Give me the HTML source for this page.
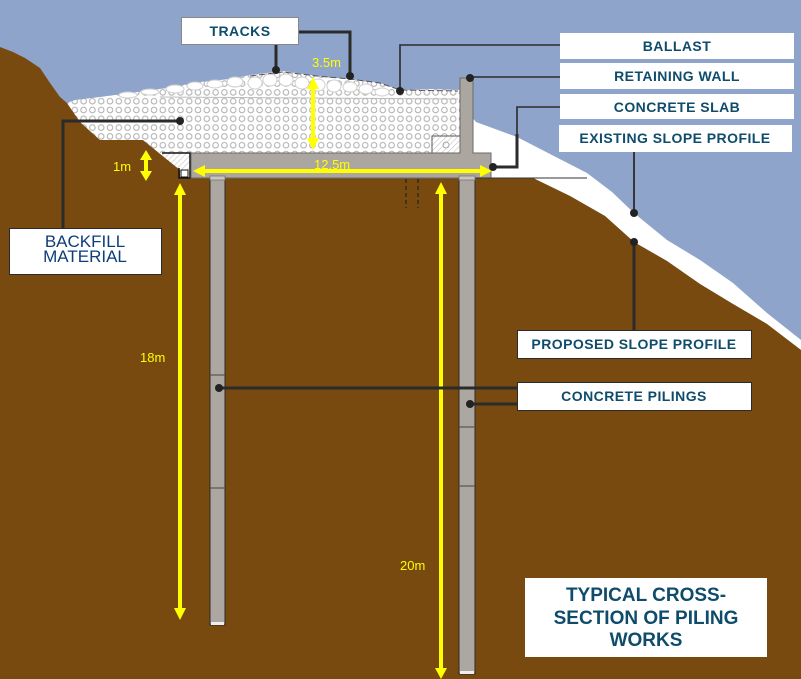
<!DOCTYPE html>
<html>
<head>
<meta charset="utf-8">
<style>
html,body{margin:0;padding:0;background:#8fa4cb;}
svg{display:block;}
</style>
</head>
<body>
<svg width="801" height="679" viewBox="0 0 801 679" xmlns="http://www.w3.org/2000/svg">
<defs>
<pattern id="ball" x="0" y="0" width="8.8" height="8.8" patternUnits="userSpaceOnUse">
<rect width="8.8" height="8.8" fill="#ffffff"/>
<circle cx="4.4" cy="4.4" r="2.8" fill="none" stroke="#adadad" stroke-width="1"/>
</pattern>
<pattern id="hatch" width="4" height="4" patternUnits="userSpaceOnUse" patternTransform="rotate(45)">
<rect width="4" height="4" fill="#ffffff"/>
<line x1="0" y1="0" x2="0" y2="4" stroke="#c4c4c4" stroke-width="1.2"/>
</pattern>
</defs>

<rect x="0" y="0" width="801" height="679" fill="#8fa4cb"/>

<polygon points="471,116 476,122 517,137 550,154 587,173 612,192 634,213 667,240 700,260 733,283 767,313 801,340 801,350 767,324 733,304 700,284 667,261 634,242 605,216 570,196 533,178 471,178" fill="#ffffff"/>

<polygon points="0,47 13,52 25,58 40,68 50,83 60,97 67,103 80,122 100,140 143,140 180,170 180,178 491,178 533,178 570,196 605,216 634,242 667,261 700,284 733,304 767,324 801,350 801,679 0,679" fill="#784a10"/>

<polygon points="67,103 75,100 100,97 130,93 167,88 200,82 230,79 250,75 283,71 317,76 350,79 380,83 400,90 430,89 460,90 460,153 159,153 143,140 100,140 80,122" fill="url(#ball)"/>
<g fill="#ffffff" stroke="#cfcfcf" stroke-width="1">
<ellipse cx="175" cy="89" rx="9" ry="4"/>
<ellipse cx="195" cy="86" rx="8" ry="4"/>
<ellipse cx="215" cy="84" rx="8" ry="4"/>
<ellipse cx="235" cy="82" rx="8" ry="5"/>
<ellipse cx="255" cy="83" rx="7" ry="6"/>
<ellipse cx="270" cy="80" rx="7" ry="6"/>
<ellipse cx="286" cy="80" rx="7" ry="6"/>
<ellipse cx="302" cy="83" rx="7" ry="6"/>
<ellipse cx="318" cy="85" rx="7" ry="6"/>
<ellipse cx="334" cy="86" rx="7" ry="6"/>
<ellipse cx="350" cy="87" rx="7" ry="5"/>
<ellipse cx="366" cy="89" rx="7" ry="5"/>
<ellipse cx="382" cy="92" rx="7" ry="4"/>
<ellipse cx="150" cy="92" rx="9" ry="3"/>
<ellipse cx="128" cy="95" rx="9" ry="3"/>
</g>
<polyline points="250,76 283,72 317,76 350,79 380,83 400,90 458,91" fill="none" stroke="#555" stroke-width="1" stroke-dasharray="6,3"/>
<line x1="160" y1="97" x2="458" y2="99" stroke="#bbb" stroke-width="1"/>

<rect x="432" y="136" width="28" height="17" fill="url(#hatch)" stroke="#555" stroke-width="1"/>
<circle cx="446" cy="145" r="3" fill="none" stroke="#aaa" stroke-width="1"/>

<polygon points="159,153 190,153 190,178 180,178 180,170" fill="url(#hatch)"/>
<polyline points="162,153 190,153 190,178 179,178 179,168" fill="none" stroke="#111" stroke-width="1.5"/>
<rect x="181" y="170" width="7" height="7" fill="#ffffff" stroke="#111" stroke-width="1"/>

<polygon points="460,78 473,78 473,153 491,153 491,178 191,178 191,153 460,153" fill="#aba69f" stroke="#6d6a66" stroke-width="1"/>
<line x1="473" y1="178" x2="587" y2="178" stroke="#333" stroke-width="1"/>

<line x1="406" y1="179" x2="406" y2="208" stroke="#222" stroke-width="1.2" stroke-dasharray="4,3"/>
<line x1="418" y1="179" x2="418" y2="208" stroke="#222" stroke-width="1.2" stroke-dasharray="4,3"/>

<rect x="210" y="178" width="15" height="447" fill="#aca7a0" stroke="#2e2b28" stroke-width="1"/>
<rect x="210" y="176" width="15" height="4" fill="#c8c4be" stroke="#777" stroke-width="0.8"/>
<line x1="210" y1="375" x2="225" y2="375" stroke="#555" stroke-width="1.2"/>
<line x1="210" y1="488" x2="225" y2="488" stroke="#555" stroke-width="1.2"/>
<rect x="211" y="622" width="13" height="3" fill="#eee"/>
<rect x="459" y="178" width="16" height="496" fill="#aca7a0" stroke="#2e2b28" stroke-width="1"/>
<rect x="459" y="176" width="16" height="4" fill="#c8c4be" stroke="#777" stroke-width="0.8"/>
<line x1="459" y1="427" x2="475" y2="427" stroke="#555" stroke-width="1.2"/>
<line x1="459" y1="486" x2="475" y2="486" stroke="#555" stroke-width="1.2"/>
<rect x="460" y="671" width="14" height="3" fill="#eee"/>

<g fill="#ffff00" stroke="none">
<rect x="311" y="87" width="4" height="52"/>
<polygon points="307,89 319,89 313,77"/>
<polygon points="307,138 319,138 313,150"/>
<rect x="144" y="158" width="4" height="15"/>
<polygon points="140,160 152,160 146,150"/>
<polygon points="140,171 152,171 146,181"/>
<rect x="203" y="169" width="278" height="4"/>
<polygon points="205,165 205,177 193,171"/>
<polygon points="480,165 480,177 492,171"/>
<rect x="178" y="193" width="4" height="418"/>
<polygon points="174,195 186,195 180,183"/>
<polygon points="174,608 186,608 180,620"/>
<rect x="439" y="192" width="4" height="478"/>
<polygon points="435,194 447,194 441,182"/>
<polygon points="435,668 447,668 441,679"/>
</g>
<g font-family="Liberation Sans, sans-serif" font-size="13" fill="#ffff00">
<text x="312" y="67">3.5m</text>
<text x="113" y="171">1m</text>
<text x="314" y="169">12.5m</text>
<text x="140" y="362">18m</text>
<text x="400" y="570">20m</text>
</g>

<g stroke="#2b2b2b" fill="none" stroke-linecap="butt">
<polyline points="298,32 350,32 350,76" stroke-width="3"/>
<line x1="276" y1="44" x2="276" y2="70" stroke-width="3"/>
<polyline points="560,45 400,45 400,91" stroke-width="1.6"/>
<line x1="470" y1="77" x2="560" y2="77" stroke-width="1.6"/>
<polyline points="560,107 517,107 517,135" stroke-width="1.6"/>
<polyline points="517,134 517,167 493,167" stroke-width="3"/>
<line x1="634" y1="152" x2="634" y2="213" stroke-width="1.8"/>
<line x1="634" y1="242" x2="634" y2="330" stroke-width="3"/>
<line x1="219" y1="388" x2="517" y2="388" stroke-width="3"/>
<line x1="470" y1="404" x2="517" y2="404" stroke-width="3"/>
<polyline points="63,228 63,121 180,121" stroke-width="3"/>
</g>
<g fill="#222">
<circle cx="276" cy="70" r="4"/>
<circle cx="350" cy="76" r="4"/>
<circle cx="400" cy="91" r="4"/>
<circle cx="470" cy="78" r="4"/>
<circle cx="493" cy="167" r="4"/>
<circle cx="634" cy="213" r="4"/>
<circle cx="634" cy="242" r="4"/>
<circle cx="219" cy="388" r="4"/>
<circle cx="470" cy="404" r="4"/>
<circle cx="180" cy="121" r="4"/>
</g>

<rect x="181.5" y="17.5" width="117" height="27" fill="#fff" stroke="#888" stroke-width="1"/>
<rect x="560" y="33" width="234" height="26" fill="#fff"/>
<rect x="560" y="63" width="234" height="26" fill="#fff"/>
<rect x="560" y="94" width="234" height="25" fill="#fff"/>
<rect x="559" y="125" width="233" height="27" fill="#fff"/>
<rect x="517.5" y="330.5" width="234" height="28" fill="#fff" stroke="#2b2b2b" stroke-width="1"/>
<rect x="517.5" y="382.5" width="234" height="28" fill="#fff" stroke="#2b2b2b" stroke-width="1"/>
<rect x="9.5" y="228.5" width="152" height="46" fill="#fff" stroke="#2b2b2b" stroke-width="1"/>
<rect x="525" y="578" width="242" height="79" fill="#fff"/>

<g font-family="Liberation Sans, sans-serif" font-weight="bold" font-size="14" fill="#0f4c6c" text-anchor="middle" letter-spacing="0.45">
<text x="240" y="36">TRACKS</text>
<text x="677" y="51">BALLAST</text>
<text x="677" y="81">RETAINING WALL</text>
<text x="677" y="112">CONCRETE SLAB</text>
<text x="675" y="143">EXISTING SLOPE PROFILE</text>
<text x="634" y="349">PROPOSED SLOPE PROFILE</text>
<text x="634" y="401">CONCRETE PILINGS</text>
</g>
<g font-family="Liberation Sans, sans-serif" font-size="17" fill="#0d3d7a" text-anchor="middle">
<text x="85" y="247">BACKFILL</text>
<text x="85" y="262">MATERIAL</text>
</g>
<g font-family="Liberation Sans, sans-serif" font-weight="bold" font-size="19" fill="#0f4c6c" text-anchor="middle">
<text x="646" y="601">TYPICAL CROSS-</text>
<text x="646" y="624">SECTION OF PILING</text>
<text x="646" y="646">WORKS</text>
</g>
</svg>
</body>
</html>
